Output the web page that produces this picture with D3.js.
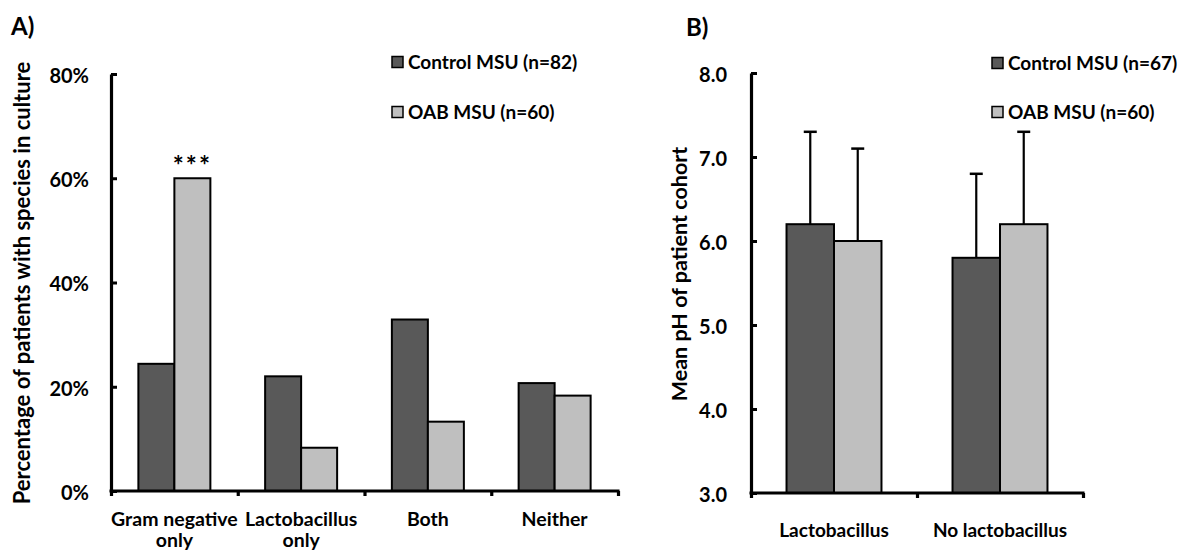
<!DOCTYPE html>
<html>
<head>
<meta charset="utf-8">
<script src="https://cdn.jsdelivr.net/npm/d3@7"></script>
<style>
  html, body { margin: 0; padding: 0; background: #fff; }
  svg { display: block; font-family: Lato, "Open Sans", sans-serif; font-weight: bold; }
</style>
</head>
<body>
<svg id="chart" width="1195" height="551"></svg>
<script>
// ---------- Data ----------
const seriesNamesA = ["Control MSU (n=82)", "OAB MSU (n=60)"];
const categoriesA = ["Gram negative only", "Lactobacillus only", "Both", "Neither"];
const categoryLinesA = [["Gram negative", "only"], ["Lactobacillus", "only"], ["Both"], ["Neither"]];
const controlA = [0.244, 0.220, 0.329, 0.207];
const oabA = [0.600, 0.083, 0.133, 0.183];
const yTicksA = [0, 0.2, 0.4, 0.6, 0.8];
const significanceA = ["***", "", "", ""];

const seriesNamesB = ["Control MSU (n=67)", "OAB MSU (n=60)"];
const categoriesB = ["Lactobacillus", "No lactobacillus"];
const controlB = [6.2, 5.8];
const oabB = [6.0, 6.2];
const controlBUpper = [7.3, 6.8];
const oabBUpper = [7.1, 7.3];
const yTicksB = [3, 4, 5, 6, 7, 8];

const colors = ["#595959", "#bfbfbf"];

const svg = d3.select("#chart");

function drawPanel(opts) {
  const g = svg.append("g");
  const { cats, lines, series, values, uppers, xr, yr, ydom, yticks, yfmt, padInner } = opts;

  const x0 = d3.scaleBand().domain(cats).range(xr).paddingInner(padInner).paddingOuter(padInner / 2);
  const x1 = d3.scaleBand().domain(series).range([0, x0.bandwidth()]);
  const y = d3.scaleLinear().domain(ydom).range(yr);
  const xb = d3.scaleLinear().domain([0, cats.length]).range(xr);

  // bars
  series.forEach((s, si) => {
    g.append("g").selectAll("rect").data(cats).join("rect")
      .attr("x", c => x0(c) + x1(s))
      .attr("y", (c, i) => y(values[si][i]))
      .attr("width", x1.bandwidth())
      .attr("height", (c, i) => y(ydom[0]) - y(values[si][i]))
      .attr("fill", colors[si])
      .attr("stroke", "#000")
      .attr("stroke-width", 2);
    if (uppers) {
      const eg = g.append("g");
      cats.forEach((c, i) => {
        const cx = x0(c) + x1(s) + x1.bandwidth() / 2;
        eg.append("line").attr("x1", cx).attr("x2", cx)
          .attr("y1", y(values[si][i])).attr("y2", y(uppers[si][i]))
          .attr("stroke", "#000").attr("stroke-width", 2.2);
        eg.append("line").attr("x1", cx - 6.5).attr("x2", cx + 6.5)
          .attr("y1", y(uppers[si][i])).attr("y2", y(uppers[si][i]))
          .attr("stroke", "#000").attr("stroke-width", 2.5);
      });
    }
  });

  // y axis
  const ya = g.append("g").attr("transform", `translate(${xr[0]},0)`)
    .call(d3.axisLeft(y).tickValues(yticks).tickFormat(yfmt).tickSizeInner(-6).tickSizeOuter(0).tickPadding(opts.tickPad));
  ya.select(".domain").attr("stroke-width", 3.2);
  ya.selectAll(".tick line").attr("stroke-width", 3);
  ya.selectAll(".tick text").attr("font-size", 20).attr("font-family", "Lato, sans-serif").attr("font-weight", "bold").attr("fill", "#000").attr("dy", "0.42em");

  // x axis (ticks at category boundaries)
  const xa = g.append("g").attr("transform", `translate(0,${yr[0]})`)
    .call(d3.axisBottom(xb).tickValues(d3.range(cats.length + 1)).tickFormat("").tickSizeInner(5).tickSizeOuter(0));
  xa.select(".domain").attr("stroke-width", 3.2).attr("d", `M${xr[0] - 1.5},0H${xr[1] + 1.5}`);
  xa.selectAll(".tick line").attr("stroke-width", 3.2);

  // category labels
  cats.forEach((c, i) => {
    const t = g.append("text").attr("x", x0(c) + x0.bandwidth() / 2).attr("y", opts.labelY)
      .attr("text-anchor", "middle").attr("font-size", opts.labelSize).attr("fill", "#000");
    lines[i].forEach((ln, li) => {
      t.append("tspan").attr("x", x0(c) + x0.bandwidth() / 2).attr("dy", li === 0 ? 0 : 21).text(ln);
    });
  });

  return { x0, x1, y, g };
}

function legend(x, ys, names) {
  const lg = svg.append("g");
  names.forEach((n, i) => {
    lg.append("rect").attr("x", x).attr("y", ys[i] - 5.5).attr("width", 11).attr("height", 11)
      .attr("fill", colors[i]).attr("stroke", "#000").attr("stroke-width", 1.5);
    lg.append("text").attr("x", x + 16).attr("y", ys[i] + 6.5).attr("font-size", 19).attr("fill", "#000").text(n);
  });
}

// Panel A
const pA = drawPanel({
  cats: categoriesA, lines: categoryLinesA, series: seriesNamesA,
  values: [controlA, oabA], uppers: null,
  xr: [111, 618], yr: [491, 74], ydom: [0, 0.8], yticks: yTicksA,
  yfmt: d3.format(".0%"), padInner: 0.432, tickPad: 22, labelY: 526, labelSize: 19.5
});
categoriesA.forEach((c, i) => {
  if (!significanceA[i]) return;
  svg.append("text")
    .attr("x", pA.x0(c) + pA.x1(seriesNamesA[1]) + pA.x1.bandwidth() / 2)
    .attr("y", pA.y(oabA[i]) - 3)
    .attr("text-anchor", "middle").attr("font-size", 26).attr("letter-spacing", 2)
    .attr("fill", "#000").text(significanceA[i]);
});
svg.append("text").attr("transform", "translate(30,283) rotate(-90)").attr("text-anchor", "middle")
  .attr("font-size", 22).attr("fill", "#000").text("Percentage of patients with species in culture");
svg.append("text").attr("x", 11).attr("y", 35).attr("font-size", 24).attr("fill", "#000").text("A)");
legend(392, [62, 112], seriesNamesA);

// Panel B
drawPanel({
  cats: categoriesB, lines: categoriesB.map(d => [d]), series: seriesNamesB,
  values: [controlB, oabB], uppers: [controlBUpper, oabBUpper],
  xr: [751, 1083], yr: [493, 73], ydom: [3, 8], yticks: yTicksB,
  yfmt: d3.format(".1f"), padInner: 0.428, tickPad: 24, labelY: 537, labelSize: 19
});
svg.append("text").attr("transform", "translate(687,274) rotate(-90)").attr("text-anchor", "middle")
  .attr("font-size", 21.5).attr("fill", "#000").text("Mean pH of patient cohort");
svg.append("text").attr("x", 686).attr("y", 36).attr("font-size", 24).attr("fill", "#000").text("B)");
legend(992, [63, 112], seriesNamesB);
</script>
</body>
</html>
